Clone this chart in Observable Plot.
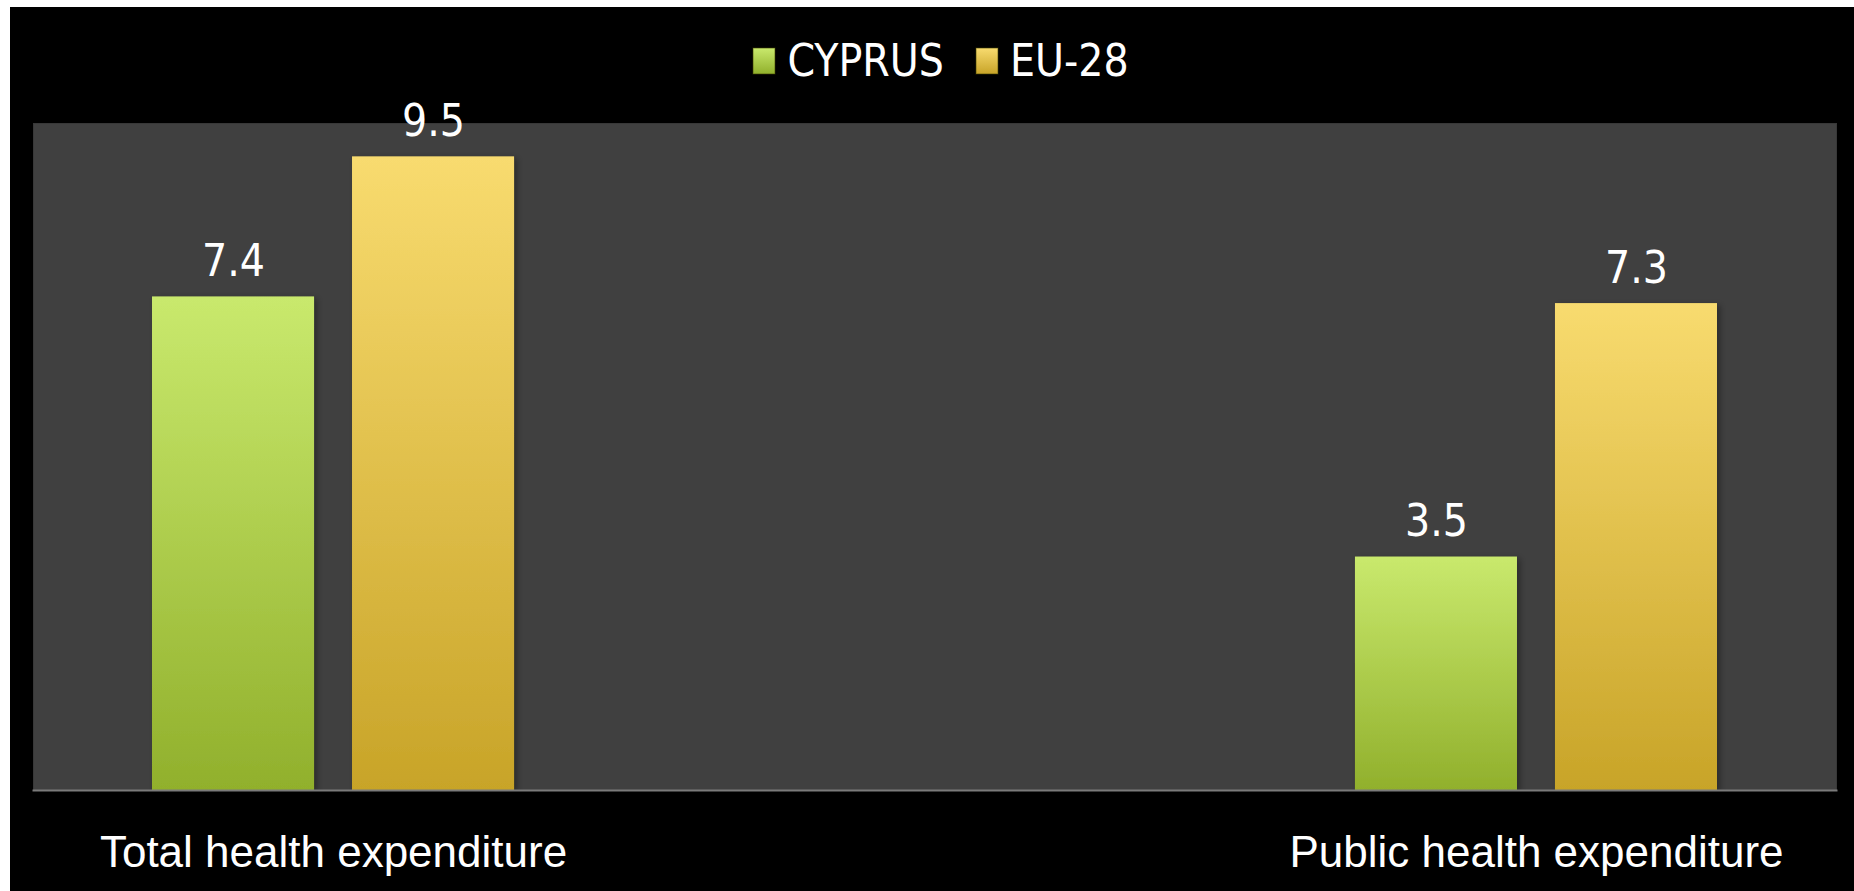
<!DOCTYPE html>
<html>
<head>
<meta charset="utf-8">
<script src="https://cdn.jsdelivr.net/npm/d3@7"></script>
<script src="https://cdn.jsdelivr.net/npm/@observablehq/plot@0.6"></script>
<style>
  html, body { margin: 0; padding: 0; background: #ffffff; }
  #panel { position: absolute; left: 10px; top: 7px; width: 1844px; height: 884px; background: #000000; overflow: hidden; }
  #legend { height: 93px; display: flex; align-items: center; justify-content: center; padding-left: 18px; box-sizing: border-box; padding-top: 14px; }
  .lg-swatches { font-family: "Liberation Sans Narrow", "DejaVu Sans Condensed", "Liberation Sans", sans-serif !important; font-size: 44px !important; color: #ffffff; margin: 0 !important; justify-content: center; }
  .lg-swatch { margin-right: 32px !important; }
  .lg-swatch:last-child { margin-right: 0 !important; }
  .lg-swatch > svg { margin-right: 12px !important; }
  .lg-swatch > svg rect { stroke: rgba(60,60,0,0.6); stroke-width: 1; }
  #chart svg { display: block; }
  #chart g[aria-label="bar"] rect { filter: url(#barShadow); }
</style>
</head>
<body>
<div id="panel">
  <div id="legend"></div>
  <div id="chart"></div>
</div>
<script>
const categories = ["Total health expenditure", "Public health expenditure"];
const seriesNames = ["CYPRUS", "EU-28"];
const cyprusValues = [7.4, 3.5];
const eu28Values = [9.5, 7.3];

const seriesFills = ["url(#gradCyprus)", "url(#gradEU)"];

const data = [];
categories.forEach((c, i) => {
  data.push({category: c, series: seriesNames[0], value: cyprusValues[i]});
  data.push({category: c, series: seriesNames[1], value: eu28Values[i]});
});

function gradientDefs() {
  const ns = "http://www.w3.org/2000/svg";
  const defs = document.createElementNS(ns, "defs");
  const specs = [
    ["gradCyprus", "#c9e96d", "#91b02c"],
    ["gradEU", "#f8db6f", "#c8a428"]
  ];
  for (const [id, top, bottom] of specs) {
    const g = document.createElementNS(ns, "linearGradient");
    g.setAttribute("id", id);
    g.setAttribute("x1", "0"); g.setAttribute("y1", "0");
    g.setAttribute("x2", "0"); g.setAttribute("y2", "1");
    const s1 = document.createElementNS(ns, "stop");
    s1.setAttribute("offset", "0"); s1.setAttribute("stop-color", top);
    const s2 = document.createElementNS(ns, "stop");
    s2.setAttribute("offset", "1"); s2.setAttribute("stop-color", bottom);
    g.append(s1, s2);
    defs.append(g);
  }
  const f = document.createElementNS(ns, "filter");
  f.setAttribute("id", "barShadow");
  f.setAttribute("x", "-10%"); f.setAttribute("y", "-10%");
  f.setAttribute("width", "130%"); f.setAttribute("height", "120%");
  const ds = document.createElementNS(ns, "feDropShadow");
  ds.setAttribute("dx", "3"); ds.setAttribute("dy", "2");
  ds.setAttribute("stdDeviation", "3");
  ds.setAttribute("flood-color", "#000"); ds.setAttribute("flood-opacity", "0.35");
  f.append(ds);
  defs.append(f);
  return defs;
}

const valueFont = '"Liberation Sans Narrow", "DejaVu Sans Condensed", "Liberation Sans", sans-serif';
const labelFont = '"Liberation Sans", Arial, sans-serif';

const chart = Plot.plot({
  width: 1844,
  height: 791,
  marginLeft: 23,
  marginRight: 18,
  marginTop: 23,
  marginBottom: 101,
  style: {background: "#000000", color: "#ffffff", overflow: "visible"},
  fx: {domain: categories, paddingInner: 0.5012, paddingOuter: 0, align: 0.5, round: false, axis: null},
  x: {domain: seriesNames, paddingInner: 0.19, paddingOuter: 0.595, round: false, axis: null},
  y: {domain: [0, 10], axis: null},
  color: {type: "ordinal", domain: seriesNames, range: seriesFills},
  marks: [
    gradientDefs,
    Plot.frame({facet: "super", fill: "#404040", stroke: "#383838"}),
    Plot.barY(data, {fx: "category", x: "series", y: "value", fill: "series"}),
    Plot.frame({facet: "super", anchor: "bottom", stroke: "#7a7a7a", strokeWidth: 2}),
    Plot.text(data, {fx: "category", x: "series", y: "value", text: d => d.value.toFixed(1),
      lineAnchor: "bottom", dy: -21, fill: "#ffffff", fontSize: 44, fontFamily: valueFont}),
    Plot.axisFx({anchor: "bottom", label: null, tickSize: 0, tickPadding: 45, fontSize: 44,
      fontFamily: labelFont, fill: "#ffffff"})
  ]
});

document.getElementById("chart").append(chart);

const legend = Plot.legend({
  color: {type: "ordinal", domain: seriesNames, range: seriesFills},
  legend: "swatches",
  className: "lg",
  swatchSize: 24,
  swatchWidth: 22,
  swatchHeight: 26
});
document.getElementById("legend").append(legend);
</script>
</body>
</html>
